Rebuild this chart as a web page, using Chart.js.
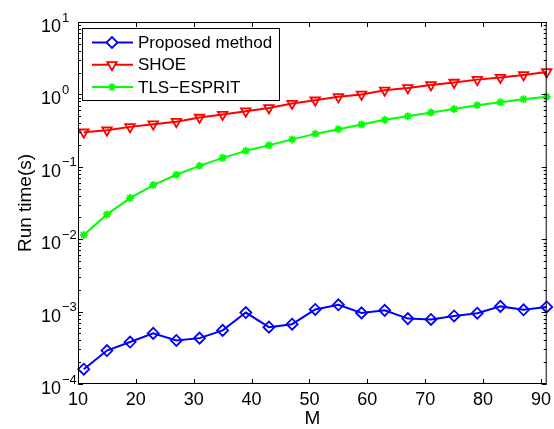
<!DOCTYPE html>
<html lang="en">
<head>
    <meta charset="UTF-8">
    <title>Run time vs M</title>
    <script src="https://cdn.jsdelivr.net/npm/chart.js"></script>
    <style>
        html, body { margin: 0; padding: 0; background: #fff; }
        #wrap { width: 554px; height: 429px; position: relative; }
    </style>
</head>
<body>
    <div id="wrap"><canvas id="runChart"></canvas></div>

    <script>
        // valores
        const M = [11, 15, 19, 23, 27, 31, 35, 39, 43, 47, 51, 55, 59, 63, 67, 71, 75, 79, 83, 87, 91];
        const proposed = [1.6e-4, 2.9e-4, 3.8e-4, 5.0e-4, 4.0e-4, 4.3e-4, 5.5e-4, 9.7e-4, 6.1e-4, 6.7e-4, 1.07e-3,
                          1.24e-3, 9.6e-4, 1.04e-3, 8.0e-4, 7.8e-4, 8.7e-4, 9.5e-4, 1.18e-3, 1.06e-3, 1.16e-3];
        const shoe = [0.30, 0.32, 0.356, 0.388, 0.42, 0.48, 0.527, 0.586, 0.65, 0.748, 0.83,
                      0.925, 1.0, 1.14, 1.23, 1.35, 1.46, 1.60, 1.71, 1.86, 2.04];
        const tls = [0.0114, 0.022, 0.037, 0.056, 0.0776, 0.103, 0.133, 0.166, 0.199, 0.239, 0.285,
                     0.331, 0.384, 0.445, 0.50, 0.562, 0.63, 0.71, 0.78, 0.86, 0.93];
        const xTicks = [10, 20, 30, 40, 50, 60, 70, 80, 90];
        const yExponents = [-4, -3, -2, -1, 0, 1];

        const FONT = '"Liberation Sans", Arial, Helvetica, sans-serif';

        const toPoints = arr => arr.map((v, i) => ({ x: M[i], y: v }));

        const datasets = [
            { label: 'Proposed method', data: toPoints(proposed), borderColor: '#0000ff',
              pointStyle: 'rectRot', pointRadius: 5.5, pointRotation: 0 },
            { label: 'SHOE', data: toPoints(shoe), borderColor: '#ff0000',
              pointStyle: 'triangle', pointRadius: 5.5, pointRotation: 180 },
            { label: 'TLS\u2212ESPRIT', data: toPoints(tls), borderColor: '#00ff00',
              pointStyle: 'star', pointRadius: 4, pointRotation: 0 }
        ].map(d => Object.assign(d, {
            borderWidth: 2,
            pointBorderColor: d.borderColor,
            pointBackgroundColor: 'rgba(0,0,0,0)',
            pointBorderWidth: 1.8,
            fill: false,
            tension: 0,
            clip: false
        }));

        // ejes tipo MATLAB: caja, ticks hacia dentro, etiquetas 10^n, leyenda
        const matlabAxes = {
            id: 'matlabAxes',
            afterDraw(chart) {
                const ctx = chart.ctx;
                const a = chart.chartArea;
                const xs = chart.scales.x, ys = chart.scales.y;
                ctx.save();
                ctx.strokeStyle = '#000';
                ctx.fillStyle = '#000';
                ctx.lineWidth = 1;
                ctx.strokeRect(a.left + 0.5, a.top + 0.5, a.right - a.left - 1, a.bottom - a.top - 1);

                // ticks del eje x
                ctx.beginPath();
                xTicks.forEach(v => {
                    const px = Math.round(xs.getPixelForValue(v)) + 0.5;
                    ctx.moveTo(px, a.bottom); ctx.lineTo(px, a.bottom - 5);
                    ctx.moveTo(px, a.top); ctx.lineTo(px, a.top + 5);
                });
                // ticks del eje y (mayores y menores)
                yExponents.forEach(e => {
                    for (let k = 1; k <= 9; k++) {
                        const v = k * Math.pow(10, e);
                        if (v > 10) break;
                        const py = Math.round(ys.getPixelForValue(v)) + 0.5;
                        const len = k === 1 ? 5 : 3;
                        ctx.moveTo(a.left, py); ctx.lineTo(a.left + len, py);
                        ctx.moveTo(a.right, py); ctx.lineTo(a.right - len, py);
                    }
                });
                ctx.stroke();

                // etiquetas x
                ctx.font = '18px ' + FONT;
                ctx.textAlign = 'center';
                ctx.textBaseline = 'middle';
                xTicks.forEach(v => ctx.fillText(String(v), xs.getPixelForValue(v), a.bottom + 16));

                // etiquetas y: 10 con exponente
                yExponents.forEach(e => {
                    const py = ys.getPixelForValue(Math.pow(10, e));
                    ctx.font = '18px ' + FONT;
                    ctx.textAlign = 'left';
                    ctx.textBaseline = 'middle';
                    ctx.fillText('10', 41, py + 5);
                    ctx.font = '13px ' + FONT;
                    const ex = e < 0 ? '\u2212' + Math.abs(e) : String(e);
                    ctx.fillText(ex, 62, py - 4);
                });

                // títulos
                ctx.font = '19px ' + FONT;
                ctx.textAlign = 'center';
                ctx.textBaseline = 'middle';
                ctx.fillText('M', (a.left + a.right) / 2, a.bottom + 35);
                ctx.save();
                ctx.translate(26, (a.top + a.bottom) / 2);
                ctx.rotate(-Math.PI / 2);
                ctx.fillText('Run time(s)', 0, 0);
                ctx.restore();

                // leyenda
                const lx = a.left + 4, ly = a.top + 6, lw = 197, lh = 72;
                ctx.fillStyle = '#fff';
                ctx.fillRect(lx, ly, lw, lh);
                ctx.strokeStyle = '#000';
                ctx.strokeRect(lx + 0.5, ly + 0.5, lw, lh);
                ctx.font = '17px ' + FONT;
                ctx.textAlign = 'left';
                chart.data.datasets.forEach((d, i) => {
                    const ry = ly + 14.5 + i * 22.3;
                    ctx.strokeStyle = d.borderColor;
                    ctx.lineWidth = 2;
                    ctx.beginPath();
                    ctx.moveTo(lx + 10, ry); ctx.lineTo(lx + 51, ry);
                    ctx.stroke();
                    ctx.lineWidth = d.pointBorderWidth;
                    ctx.fillStyle = '#fff';
                    Chart.helpers.drawPoint(ctx, {
                        pointStyle: d.pointStyle, radius: d.pointRadius, rotation: d.pointRotation,
                        borderWidth: d.pointBorderWidth
                    }, lx + 30, ry);
                    ctx.fillStyle = '#000';
                    ctx.fillText(d.label, lx + 56, ry + 1);
                });
                ctx.restore();
            }
        };

        new Chart(document.getElementById('runChart'), {
            type: 'line',
            data: { datasets: datasets },
            options: {
                responsive: true,
                maintainAspectRatio: false,
                animation: false,
                events: [],
                layout: { padding: { left: 78, top: 22, right: 7, bottom: 45 } },
                plugins: { legend: { display: false }, tooltip: { enabled: false } },
                scales: {
                    x: { type: 'linear', min: 10, max: 91, display: false },
                    y: { type: 'logarithmic', min: 1e-4, max: 10, display: false }
                }
            },
            plugins: [matlabAxes]
        });
    </script>
</body>
</html>
